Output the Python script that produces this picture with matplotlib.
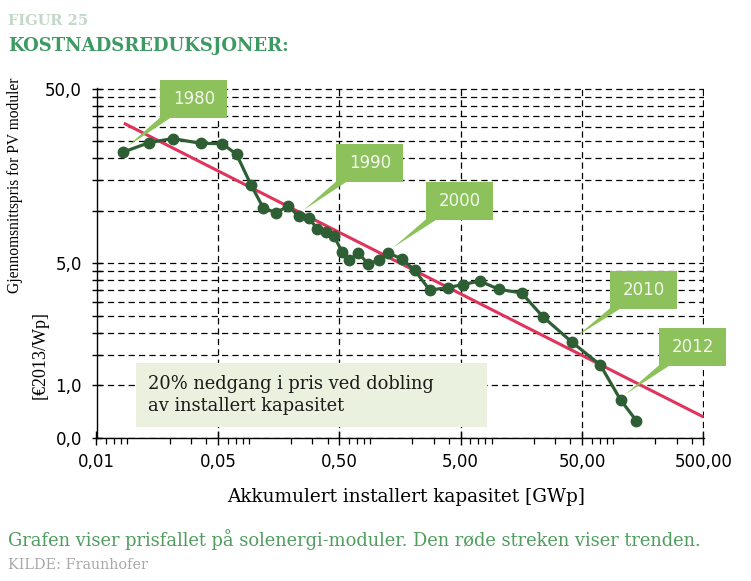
import matplotlib
matplotlib.use("Agg")
from matplotlib import pyplot as plt
from matplotlib.patches import Rectangle, Polygon
from matplotlib.ticker import FixedLocator, LogLocator, NullFormatter

# Akkumulert kapasitet [GWp] og modulpris [EUR2013/Wp], 1980-2013
capacity = [0.0082, 0.0135, 0.0212, 0.0362, 0.0543, 0.0713, 0.0935, 0.118,
            0.150, 0.190, 0.231, 0.282, 0.328, 0.392, 0.453, 0.527, 0.602,
            0.714, 0.863, 1.06, 1.27, 1.63, 2.09, 2.78, 3.93, 5.22, 7.17,
            10.3, 15.9, 23.8, 41.2, 70.6, 104, 140]
price = [21.6, 24.5, 25.9, 24.3, 24.2, 21.0, 14.1, 10.4, 9.75, 10.6, 9.32,
         9.04, 7.90, 7.52, 7.16, 5.80, 5.20, 5.73, 4.98, 5.20, 5.70, 5.32,
         4.56, 3.51, 3.63, 3.78, 3.96, 3.55, 3.38, 2.47, 1.77, 1.31, 0.824,
         0.628]

# trendlinje
trend_x = [0.0084, 500]
trend_y = [31.7, 0.66]

# aksene
x_ticks = [0.005, 0.05, 0.5, 5, 50, 500]
x_labels = ["0,01", "0,05", "0,50", "5,00", "50,00", "500,00"]
y_ticks = [0.5, 1, 5, 50]
y_labels = ["0,0", "1,0", "5,0", "50,0"]
y_grid = [1.5, 2, 2.5, 3, 3.5, 4, 4.5, 10, 15, 20, 25, 30, 35, 40, 45]

# årstall-bobler
callout_labels = ["1980", "1990", "2000", "2010", "2012"]
callout_idx = [0, 10, 20, 30, 32]

DARK_GREEN = "#2e5e34"
RED = "#e0345c"
BUBBLE = "#8cc15b"

fig = plt.figure(figsize=(7.51, 5.81), dpi=100)
W, H = 751, 581
ax = fig.add_axes([96.5 / W, 1 - 438 / H, 607.5 / W, 350 / H])

ax.set_xscale("log")
ax.set_yscale("log")
ax.set_xlim(0.005, 505)
ax.set_ylim(0.5, 50.4)

ax.plot(trend_x, trend_y, color=RED, lw=2.2, zorder=3, solid_capstyle="butt")
ax.plot(capacity, price, color=DARK_GREEN, lw=2.3, marker="o", ms=7.5, zorder=4)

ax.set_xticks(x_ticks)
ax.set_xticklabels(x_labels)
ax.xaxis.set_minor_locator(LogLocator(base=10, subs=[2, 3, 4, 5, 6, 7, 8, 9], numticks=20))
ax.xaxis.set_minor_formatter(NullFormatter())
ax.set_yticks(y_ticks)
ax.set_yticklabels(y_labels)
ax.yaxis.set_minor_locator(FixedLocator(y_grid))
ax.yaxis.set_minor_formatter(NullFormatter())

dash = (0, (5, 3.3))
ax.set_axisbelow(True)
ax.yaxis.grid(True, which="both", color="black", lw=0.9, ls=dash)
ax.xaxis.grid(True, which="major", color="black", lw=0.9, ls=dash)
ax.xaxis.grid(False, which="minor")

for s in ["top", "right"]:
    ax.spines[s].set_visible(False)
for s in ["left", "bottom"]:
    ax.spines[s].set_linewidth(1.0)

ax.tick_params(axis="x", which="major", direction="inout", length=9.4, width=1,
               labelsize=12, pad=6)
ax.tick_params(axis="x", which="minor", direction="out", length=4.3, width=0.9)
ax.tick_params(axis="y", which="both", direction="inout", length=7, width=1,
               labelsize=12, pad=7)

# tekstboks
ax.add_patch(Rectangle((0.065, 0.031), 0.577, 0.183, transform=ax.transAxes,
                       facecolor="#ebf1df", edgecolor="none", zorder=5))
ax.text(0.0848, 0.123, "20% nedgang i pris ved dobling\nav installert kapasitet",
        transform=ax.transAxes, ha="left", va="center", fontsize=12.9,
        family="DejaVu Serif", color="#1a1a1a", linespacing=1.3, zorder=6)

# bobler: (venstre, bunn) i akse-brøk
boxes = [(0.1045, 0.9134), (0.3942, 0.7306), (0.5424, 0.6229),
         (0.8453, 0.3686), (0.9259, 0.2057)]
bw, bh, base = 0.111, 0.1095, 0.018
to_ax = ax.transAxes.inverted()
for lab, i, (bx, by) in zip(callout_labels, callout_idx, boxes):
    px, py = ax.transData.transform((capacity[i], price[i]))
    tx, ty = to_ax.transform((px + 5, py + 6))
    ax.add_patch(Polygon([(bx, by + 0.002), (bx + base, by + 0.002), (tx, ty)],
                         closed=True, transform=ax.transAxes, facecolor=BUBBLE,
                         edgecolor="none", clip_on=False, zorder=7))
    ax.add_patch(Rectangle((bx, by), bw, bh, transform=ax.transAxes,
                           facecolor=BUBBLE, edgecolor="none", clip_on=False, zorder=7))
    ax.text(bx + bw / 2, by + bh / 2, lab, transform=ax.transAxes, ha="center",
            va="center", fontsize=12, color="#f4f8ee", zorder=8)

# aksetitler
fig.text(15 / W, 1 - 185 / H, "Gjennomsnittspris for PV moduler", rotation=90,
         ha="center", va="center", fontsize=11.2, family="Liberation Serif")
fig.text(40 / W, 1 - 355 / H, "[€2013/Wp]", rotation=90, ha="center",
         va="center", fontsize=13, family="Liberation Serif")
fig.text(406 / W, 1 - 497 / H, "Akkumulert installert kapasitet [GWp]",
         ha="center", va="center", fontsize=13.3, family="DejaVu Serif")

# overskrift og bildetekst
fig.text(8 / W, 1 - 21 / H, "FIGUR 25", ha="left", va="center", fontsize=10.5,
         family="DejaVu Serif", weight="bold", color="#c3d8c6")
fig.text(8 / W, 1 - 46 / H, "KOSTNADSREDUKSJONER:", ha="left", va="center",
         fontsize=13, family="DejaVu Serif", weight="bold", color="#3d9a63")
fig.text(8 / W, 1 - 540 / H,
         "Grafen viser prisfallet på solenergi-moduler. Den røde streken viser trenden.",
         ha="left", va="center", fontsize=12.9, family="DejaVu Serif", color="#4f9e5e")
fig.text(8 / W, 1 - 565 / H, "KILDE: Fraunhofer", ha="left", va="center",
         fontsize=10.4, family="DejaVu Serif", color="#a8a8a8")

fig.savefig("out.png", dpi=100)
plt.close(fig)
